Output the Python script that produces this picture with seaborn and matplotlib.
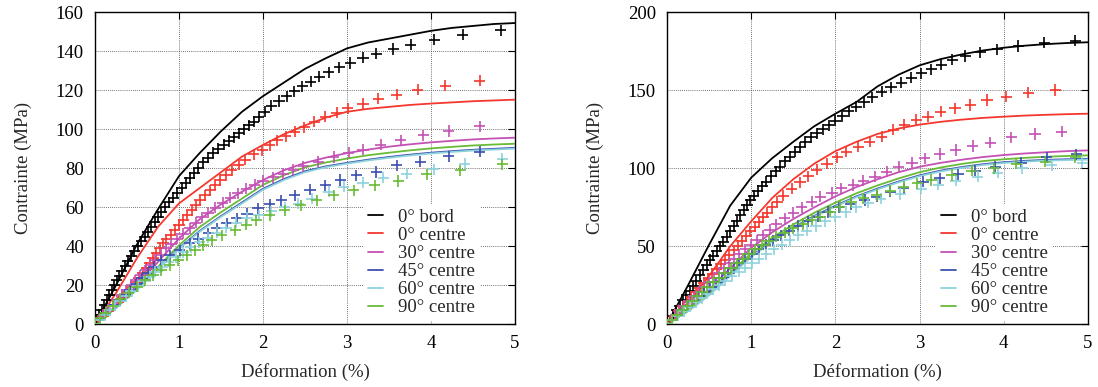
import matplotlib
matplotlib.use("Agg")
import matplotlib.pyplot as plt
import pandas as pd
import seaborn as sns
from matplotlib.lines import Line2D

# Series names and colours (gnuplot-like)
SERIES = ["0° bord", "0° centre", "30° centre", "45° centre", "60° centre", "90° centre"]
COLORS = ["#000000", "#f5372d", "#c451b4", "#3b4fb0", "#8dd2dc", "#68bb36"]

# ---------------- left panel : model curves (strain %, stress MPa) ----------------
model_strain = [0, 0.25, 0.5, 0.75, 1, 1.25, 1.5, 1.75, 2, 2.25, 2.5, 2.75, 3,
                3.25, 3.5, 3.75, 4, 4.25, 4.5, 4.75, 5]
L_mod_bord0 = [0, 20, 41, 59, 76, 88, 99, 109, 117, 124, 131, 136.5, 141.5,
               144.5, 146.5, 148.5, 150.5, 152, 153, 154, 154.5]
L_mod_c0 = [0, 16, 34, 50, 62, 70, 78, 86, 92, 97.5, 102, 106, 109,
            110.5, 111.5, 112.5, 113.2, 113.8, 114.4, 114.8, 115.2]
L_mod_c30 = [0, 9.5, 20, 32, 44, 54, 61.5, 68, 74, 79, 82.8, 85.5, 87.8,
             89.6, 91.1, 92.3, 93.3, 94.1, 94.8, 95.3, 95.7]
L_mod_c45 = [0, 8.5, 18, 28.5, 39, 48, 55.5, 62.5, 69.5, 74.5, 78.5, 81, 82.8,
             84.4, 85.8, 87, 88, 88.8, 89.5, 90, 90.5]
L_mod_c60 = [0, 8.3, 17.7, 28.2, 38.7, 47.6, 55.1, 62, 69, 74, 78, 80.6, 82.4,
             84, 85.4, 86.6, 87.6, 88.4, 89.1, 89.6, 90.1]
L_mod_c90 = [0, 8.8, 18.5, 29.5, 40.5, 50, 57.5, 64.5, 71.5, 76.5, 80.5, 83, 85,
             86.7, 88, 89.2, 90.2, 91, 91.7, 92.2, 92.6]

# ---------------- left panel : measurements (strain %, stress MPa) ----------------
L_exp_bord0 = [(0, 0), (0.02, 2.5), (0.05, 5), (0.08, 7.5), (0.11, 10), (0.14, 12.5), (0.17, 15),
               (0.20, 17.5), (0.23, 20), (0.26, 22.5), (0.29, 25), (0.32, 27.5), (0.36, 30),
               (0.39, 32.5), (0.43, 35), (0.47, 37.5), (0.51, 40), (0.55, 42.5), (0.59, 45),
               (0.63, 47.5), (0.67, 50), (0.71, 52.5), (0.75, 55), (0.79, 57.5), (0.83, 60),
               (0.88, 62.5), (0.93, 65), (0.98, 67.5), (1.03, 70), (1.08, 72.5), (1.13, 75),
               (1.18, 77.5), (1.23, 80), (1.29, 83), (1.35, 85.5), (1.41, 88), (1.47, 90),
               (1.53, 92), (1.59, 94), (1.65, 96), (1.71, 98), (1.77, 100), (1.83, 102),
               (1.89, 104), (1.95, 106.5), (2.02, 109), (2.10, 112), (2.19, 114.5), (2.28, 117),
               (2.37, 119.5), (2.47, 122), (2.57, 124.5), (2.67, 127), (2.78, 129.3),
               (2.91, 131.7), (3.04, 134), (3.19, 136.6), (3.35, 138.8), (3.55, 141.2),
               (3.76, 143.4), (4.04, 146), (4.38, 148.6), (4.83, 150.8)]
L_exp_c0 = [(0, 0), (0.04, 2), (0.10, 4.5), (0.16, 7), (0.22, 9.5), (0.28, 12), (0.33, 14),
            (0.38, 16.5), (0.43, 19), (0.48, 21.5), (0.52, 24), (0.57, 26.5), (0.61, 29),
            (0.65, 31.5), (0.69, 34), (0.73, 36.5), (0.77, 39), (0.81, 41.5), (0.85, 43.5),
            (0.90, 46), (0.95, 48.5), (1.00, 51), (1.05, 53.5), (1.10, 56), (1.15, 58.5),
            (1.20, 61), (1.25, 63.5), (1.31, 66.2), (1.37, 68.8), (1.43, 71.5), (1.49, 74),
            (1.56, 76.5), (1.63, 79), (1.71, 81.8), (1.79, 84.5), (1.89, 87.1), (1.99, 89.3),
            (2.08, 91.9), (2.17, 94.3), (2.27, 96.5), (2.375, 98.7), (2.49, 101.1),
            (2.61, 103.8), (2.74, 106.4), (2.875, 108.4), (3.01, 110.7), (3.19, 113),
            (3.37, 115.6), (3.59, 117.8), (3.84, 120.4), (4.17, 122.4), (4.58, 125)]
L_exp_c30 = [(0, 0), (0.05, 2.5), (0.10, 5), (0.16, 7.5), (0.21, 10), (0.26, 12.4), (0.32, 15),
             (0.37, 17.5), (0.43, 20), (0.48, 22.5), (0.54, 25.2), (0.60, 27.7), (0.66, 30.2),
             (0.72, 33), (0.78, 35.7), (0.85, 38.9), (0.91, 41.4), (0.98, 44), (1.05, 46.5),
             (1.13, 49.2), (1.20, 52), (1.27, 54.8), (1.35, 57.3), (1.43, 59.8), (1.52, 62.3),
             (1.61, 64.8), (1.70, 67.2), (1.80, 69.5), (1.90, 71.5), (2.00, 73.5), (2.12, 75.5),
             (2.24, 77.3), (2.36, 79.2), (2.48, 81), (2.66, 83.3), (2.84, 85.8), (3.02, 87.9),
             (3.19, 89.6), (3.40, 92.2), (3.64, 94.4), (3.91, 96.9), (4.21, 99.1), (4.58, 101.5)]
L_exp_c45 = [(0, 0), (0.06, 2.5), (0.12, 5), (0.18, 7.5), (0.24, 10), (0.30, 12.5), (0.36, 15),
             (0.42, 17.5), (0.49, 20.5), (0.56, 23.5), (0.63, 26.5), (0.70, 29.5), (0.79, 32.9),
             (0.89, 35.5), (1.01, 38), (1.13, 41.5), (1.23, 44), (1.35, 46.6), (1.45, 49.2),
             (1.57, 51.7), (1.69, 54.3), (1.81, 56.8), (1.94, 59.4), (2.08, 61.6), (2.22, 63.6),
             (2.38, 66.2), (2.56, 69.1), (2.74, 71.3), (2.92, 74), (3.11, 76.4), (3.35, 78.1),
             (3.59, 81.6), (3.87, 83.3), (4.21, 86.2), (4.58, 88.6)]
L_exp_c60 = [(0, 0), (0.06, 2.4), (0.12, 4.8), (0.18, 7.2), (0.24, 9.6), (0.30, 12), (0.37, 14.5),
             (0.44, 17), (0.51, 19.5), (0.58, 22), (0.65, 24.5), (0.72, 27), (0.80, 29.5),
             (0.88, 32), (0.96, 34.5), (1.05, 37), (1.14, 39.5), (1.24, 42), (1.34, 44.5),
             (1.45, 47), (1.56, 49.5), (1.68, 52), (1.81, 54.5), (1.95, 56), (2.10, 58),
             (2.26, 60), (2.42, 61.8), (2.58, 64.5), (2.78, 67.9), (2.96, 70.5), (3.19, 72.7),
             (3.43, 75.1), (3.71, 77.3), (4.03, 79.4), (4.40, 82.4), (4.85, 85)]
L_exp_c90 = [(0, 0), (0.06, 3), (0.13, 6), (0.21, 9.5), (0.30, 13), (0.40, 16.3), (0.50, 19.3),
             (0.60, 22.5), (0.69, 25.3), (0.79, 27.8), (0.89, 30.4), (0.99, 32.9), (1.09, 35.5),
             (1.19, 38), (1.29, 40.6), (1.39, 43.2), (1.51, 45.7), (1.67, 48.3), (1.80, 51),
             (1.92, 53.4), (2.08, 56), (2.26, 58.5), (2.45, 61), (2.64, 63.6), (2.84, 66.2),
             (3.08, 68.8), (3.33, 71.3), (3.61, 73.5), (3.95, 77), (4.35, 79), (4.85, 82)]

# ---------------- right panel : model curves ----------------
R_mod_bord0 = [0, 25, 51, 76, 94, 106.5, 117, 127, 135, 142.5, 152.5, 160, 166,
               170, 173, 175.5, 177.3, 178.6, 179.6, 180.3, 180.8]
R_mod_c0 = [0, 14, 31, 50, 66, 81, 93, 103, 111, 117, 122, 125.5, 128,
            129.8, 131.2, 132.3, 133.1, 133.8, 134.3, 134.7, 135]
R_mod_c30 = [0, 10, 22, 36, 49, 59, 67.5, 75, 82, 88, 93, 97.5, 101,
             103.5, 105.5, 107.2, 108.5, 109.5, 110.3, 111, 111.5]
R_mod_c45 = [0, 8.5, 19, 31.5, 43.5, 53.5, 62, 69.5, 76, 82, 87, 91.5, 95.5,
             98.5, 100.8, 102.6, 103.9, 104.8, 105.4, 105.8, 106.1]
R_mod_c60 = [0, 8.3, 18.6, 31, 43, 53, 61.5, 69, 75.5, 81.5, 86.5, 91, 95,
             98, 100.3, 102.1, 103.4, 104.3, 104.9, 105.3, 105.6]
R_mod_c90 = [0, 9, 20, 33, 45.5, 55.5, 64, 71.5, 78, 84, 89, 93.5, 97.5,
             100.5, 102.8, 104.6, 105.8, 106.7, 107.4, 107.9, 108.3]

# ---------------- right panel : measurements ----------------
R_exp_bord0 = [(0, 0), (0.03, 2.5), (0.07, 5.5), (0.11, 9), (0.15, 12), (0.19, 15.5), (0.23, 18.5),
               (0.27, 21.5), (0.31, 24.5), (0.35, 28), (0.39, 31.5), (0.43, 35), (0.47, 38),
               (0.51, 41.2), (0.55, 44), (0.59, 47), (0.63, 50), (0.67, 53), (0.71, 56),
               (0.75, 59.5), (0.79, 63), (0.83, 66.5), (0.87, 70), (0.91, 73.5), (0.95, 76.5),
               (0.99, 79.5), (1.03, 82.5), (1.08, 85.5), (1.13, 88.5), (1.18, 91.5), (1.24, 95),
               (1.29, 98), (1.34, 101), (1.40, 104.5), (1.46, 107.5), (1.52, 110.5), (1.58, 113.5),
               (1.64, 117), (1.71, 120), (1.78, 122.5), (1.85, 125), (1.92, 127.5), (2.00, 130.5),
               (2.08, 133.5), (2.16, 136.5), (2.25, 139.5), (2.34, 142.5), (2.44, 145.5),
               (2.55, 149), (2.66, 152), (2.78, 155), (2.90, 158), (3.02, 161), (3.14, 163.5),
               (3.26, 166.5), (3.39, 169.5), (3.54, 172), (3.72, 174.4), (3.92, 176.3),
               (4.17, 178.4), (4.48, 180.5), (4.85, 181.8)]
R_exp_c0 = [(0, 0), (0.04, 2.5), (0.09, 5.5), (0.14, 8.5), (0.19, 11.5), (0.24, 14.5), (0.29, 17.5),
            (0.34, 20.5), (0.39, 23.5), (0.44, 26.5), (0.49, 29.5), (0.54, 32.5), (0.59, 35.5),
            (0.64, 38.5), (0.69, 41.5), (0.74, 44.5), (0.79, 47.5), (0.84, 50.5), (0.89, 53.5),
            (0.94, 56.5), (0.99, 59.5), (1.04, 62.5), (1.09, 65.5), (1.14, 68.5), (1.19, 71.5),
            (1.25, 75), (1.31, 78.5), (1.38, 82.5), (1.48, 87), (1.58, 91), (1.68, 95),
            (1.78, 99), (1.90, 103), (2.02, 107), (2.13, 110.6), (2.27, 113.8), (2.41, 117),
            (2.55, 120.3), (2.69, 124.6), (2.82, 127.8), (2.96, 131), (3.10, 133), (3.25, 136.3),
            (3.42, 138.5), (3.60, 140.6), (3.80, 143.8), (4.03, 145.9), (4.29, 148.5), (4.61, 150.2)]
R_exp_c30 = [(0, 0), (0.05, 3), (0.10, 6), (0.15, 9), (0.20, 12), (0.26, 15), (0.32, 18),
             (0.38, 21), (0.44, 24), (0.50, 27), (0.56, 30), (0.62, 33), (0.68, 36), (0.74, 39),
             (0.80, 42), (0.86, 45), (0.93, 48), (1.00, 51), (1.07, 54), (1.14, 57), (1.22, 60.5),
             (1.30, 64), (1.40, 68), (1.50, 71.5), (1.60, 75), (1.72, 78.6), (1.82, 81.8),
             (1.96, 84.4), (2.07, 87.2), (2.21, 89.3), (2.33, 92), (2.47, 94.6), (2.61, 97.8),
             (2.75, 101), (2.91, 103.7), (3.06, 106.4), (3.24, 109.2), (3.43, 111.7),
             (3.63, 114.3), (3.84, 116.4), (4.09, 119.8), (4.37, 122), (4.69, 123.5)]
R_exp_c45 = [(0, 0), (0.06, 3), (0.12, 6), (0.18, 9), (0.24, 12), (0.30, 15), (0.37, 18),
             (0.44, 21), (0.51, 24), (0.58, 27), (0.65, 30), (0.72, 33), (0.79, 36), (0.86, 39),
             (0.93, 42), (1.01, 45), (1.09, 48), (1.17, 51), (1.26, 54), (1.35, 57), (1.45, 60),
             (1.56, 63), (1.67, 66), (1.79, 69), (1.91, 72), (2.04, 75), (2.18, 77),
             (2.35, 79.7), (2.49, 81.8), (2.65, 85), (2.81, 87.2), (3.04, 91.4), (3.24, 93.6),
             (3.46, 96.3), (3.66, 98.5), (3.90, 101), (4.21, 103.6), (4.51, 107), (4.86, 109)]
R_exp_c60 = [(0, 0), (0.06, 2.8), (0.13, 5.6), (0.20, 8.4), (0.27, 11.2), (0.34, 14), (0.41, 16.8),
             (0.48, 19.6), (0.55, 22.4), (0.62, 25.2), (0.69, 28), (0.77, 30.8), (0.85, 33.6),
             (0.93, 36.4), (1.01, 39.2), (1.09, 42), (1.18, 45), (1.27, 48), (1.36, 51),
             (1.46, 54), (1.56, 57), (1.66, 60), (1.77, 63), (1.88, 66), (2.00, 69), (2.12, 72),
             (2.25, 75), (2.39, 78), (2.54, 80.5), (2.77, 83.5), (3.02, 87), (3.22, 89.5),
             (3.43, 92), (3.69, 94.6), (3.93, 97.2), (4.22, 100), (4.57, 102), (4.93, 103.6)]
R_exp_c90 = [(0, 0), (0.06, 3), (0.12, 6), (0.18, 9), (0.24, 12), (0.30, 15), (0.36, 18),
             (0.42, 21), (0.48, 24), (0.55, 27), (0.62, 30), (0.69, 33), (0.76, 36), (0.83, 39),
             (0.90, 42), (0.97, 45), (1.05, 48), (1.13, 51), (1.21, 53.5), (1.30, 56.2),
             (1.40, 58.7), (1.50, 61.5), (1.62, 64.3), (1.72, 66.9), (1.82, 69), (1.94, 72.2),
             (2.05, 75.4), (2.19, 78.6), (2.33, 80.8), (2.49, 82.9), (2.65, 85.5), (2.81, 88.2),
             (2.97, 90.4), (3.14, 92.5), (3.38, 95.7), (3.62, 98.5), (3.88, 100), (4.15, 102.8),
             (4.49, 104.2), (4.85, 107)]

LEFT_YTICKS = [0, 20, 40, 60, 80, 100, 120, 140, 160]
RIGHT_YTICKS = [0, 50, 100, 150, 200]
XTICKS = [0, 1, 2, 3, 4, 5]

FONT = ["Liberation Serif", "DejaVu Serif"]


def model_frame(curves):
    rows = []
    for name, stress in zip(SERIES, curves):
        for e, s in zip(model_strain, stress):
            rows.append({"serie": name, "strain": e, "stress": s})
    return pd.DataFrame(rows)


def exp_frame(sets):
    rows = []
    for name, pts in zip(SERIES, sets):
        for e, s in pts:
            rows.append({"serie": name, "strain": e, "stress": s})
    return pd.DataFrame(rows)


def draw_panel(ax, mod, exp, yticks):
    palette = dict(zip(SERIES, COLORS))
    sns.lineplot(data=mod, x="strain", y="stress", hue="serie", palette=palette,
                 sort=False, estimator=None, linewidth=1.3, legend=False, ax=ax, zorder=3)
    sns.scatterplot(data=exp, x="strain", y="stress", hue="serie", palette=palette,
                    marker="+", s=64, linewidth=1.2, legend=False, ax=ax, zorder=4)

    ax.set_xlim(0, 5)
    ax.set_ylim(yticks[0], yticks[-1])
    ax.set_xticks(XTICKS)
    ax.set_yticks(yticks)
    ax.grid(True, color="#444444", linestyle=(0, (1, 1.5)), linewidth=0.6, zorder=0)
    ax.tick_params(direction="in", top=True, right=True, length=5, width=0.8,
                   labelsize=13.5, pad=8, colors="black")
    for sp in ax.spines.values():
        sp.set_color("black")
        sp.set_linewidth(1.0)
    ax.set_xlabel("Déformation (%)", fontsize=13.5, labelpad=8)
    ax.set_ylabel("Contrainte (MPa)", fontsize=13.5, labelpad=17)

    handles = [Line2D([], [], color=c, linewidth=1.3) for c in COLORS]
    leg = ax.legend(handles, SERIES, loc="upper left", bbox_to_anchor=(0.64, 0.385),
                    borderaxespad=0, frameon=True, fontsize=13.5, handlelength=0.8,
                    handletextpad=0.8, labelspacing=0.05, borderpad=0.25)
    leg.get_frame().set_facecolor("white")
    leg.get_frame().set_edgecolor("none")
    leg.get_frame().set_alpha(1)
    leg.set_zorder(5)


sns.set_theme(style="white")
plt.rcParams["font.family"] = FONT
plt.rcParams["mathtext.fontset"] = "stix"

fig = plt.figure(figsize=(10.98, 3.87), dpi=100)
ax_l = fig.add_axes([95 / 1098, 62.7 / 387, 420 / 1098, 312 / 387])
ax_r = fig.add_axes([667 / 1098, 62.7 / 387, 421 / 1098, 312 / 387])

draw_panel(ax_l,
           model_frame([L_mod_bord0, L_mod_c0, L_mod_c30, L_mod_c45, L_mod_c60, L_mod_c90]),
           exp_frame([L_exp_bord0, L_exp_c0, L_exp_c30, L_exp_c45, L_exp_c60, L_exp_c90]),
           LEFT_YTICKS)
draw_panel(ax_r,
           model_frame([R_mod_bord0, R_mod_c0, R_mod_c30, R_mod_c45, R_mod_c60, R_mod_c90]),
           exp_frame([R_exp_bord0, R_exp_c0, R_exp_c30, R_exp_c45, R_exp_c60, R_exp_c90]),
           RIGHT_YTICKS)

fig.savefig("out.png", dpi=100)
plt.close(fig)
